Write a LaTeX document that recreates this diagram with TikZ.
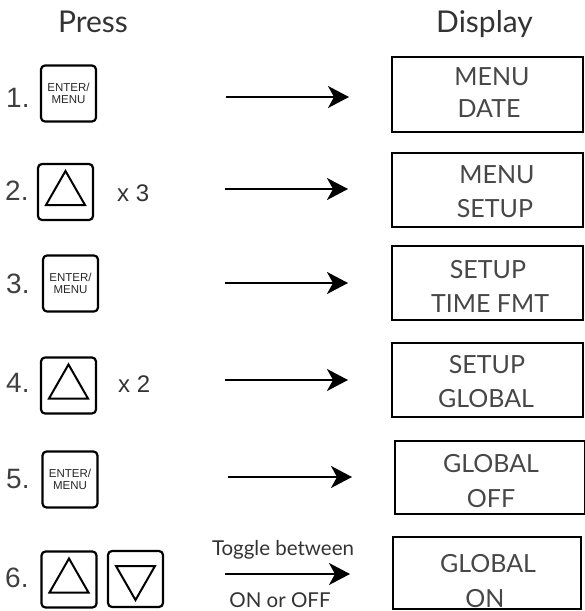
\documentclass[tikz,border=0pt]{standalone}
\usepackage{fontspec}
\setmainfont{Lato}
\newfontfamily\arialf{Liberation Sans}
\usetikzlibrary{arrows.meta}
\begin{document}
\begin{tikzpicture}[x=1pt,y=-1pt,
  btn/.style={draw=black, line width=2.2pt, rounded corners=4pt, minimum width=55pt, minimum height=56pt, inner sep=0pt},
  disp/.style={draw=black, line width=2.5pt, inner sep=0pt},
  arr/.style={line width=2pt, -{Stealth[length=21pt,width=22pt,inset=6pt]}},
  tri/.style={line width=2pt, line join=miter},
  num/.style={font=\arialf\fontsize{28}{28}\selectfont, text=black!75, anchor=base west, inner sep=0pt},
  times/.style={font=\arialf\fontsize{24}{24}\selectfont, text=black!80, anchor=base west, inner sep=0pt},
  head/.style={font=\fontsize{30}{30}\selectfont, text=black!80, anchor=base, inner sep=0pt},
  btext/.style={font=\arialf\fontsize{11.5}{12.5}\selectfont, align=center, text=black!85},
  dtext/.style={font=\fontsize{25}{25}\selectfont, text=black!72, anchor=base, inner sep=0pt},
  small/.style={font=\fontsize{20.5}{20.5}\selectfont, text=black!80, anchor=base, inner sep=0pt}
]
\path[use as bounding box] (0,0) rectangle (585,611);

% headings
\node[head] (hpress) at (93,32) {Press};
\node[head] (hdisp) at (484.5,32) {Display};

% numbers
\node[num] (n1) at (6,107) {1.};
\node[num] (n2) at (5,200) {2.};
\node[num] (n3) at (6,293) {3.};
\node[num] (n4) at (6,392) {4.};
\node[num] (n5) at (6,488) {5.};
\node[num] (n6) at (5,587) {6.};

% buttons
\node[btn, btext] (b1) at (68.5,93.5) {ENTER/\\MENU};
\node[btn] (b2) at (65.5,192) {};
\node[btn, btext] (b3) at (70.5,283.5) {ENTER/\\MENU};
\node[btn] (b4) at (68.5,385.5) {};
\node[btn, btext] (b5) at (70,479.5) {ENTER/\\MENU};
\node[btn] (b6a) at (69,579.5) {};
\node[btn] (b6b) at (135.5,579) {};

% triangles
\draw[tri, shift={(b2.center)}] (0,-21) -- (19.5,13) -- (-19.5,13) -- cycle;
\draw[tri, shift={(b4.center)}] (0,-21) -- (19.5,13) -- (-19.5,13) -- cycle;
\draw[tri, shift={(b6a.center)}] (0,-21) -- (19.5,13) -- (-19.5,13) -- cycle;
\draw[tri, shift={(b6b.center)}] (0,21) -- (19.5,-13) -- (-19.5,-13) -- cycle;

% multipliers
\node[times] (x3) at (117,201) {x 3};
\node[times] (x2) at (118,392) {x 2};

% display boxes
\node[disp, minimum width=191pt, minimum height=75pt] (d1) at (487.5,94.5) {};
\node[disp, minimum width=191pt, minimum height=74pt] (d2) at (487.5,190) {};
\node[disp, minimum width=191pt, minimum height=74pt] (d3) at (487.5,283) {};
\node[disp, minimum width=191pt, minimum height=74pt] (d4) at (487.5,380) {};
\node[disp, minimum width=190pt, minimum height=73pt] (d5) at (490,477.5) {};
\node[disp, minimum width=188pt, minimum height=72pt] (d6) at (487,573) {};

% display texts
\node[dtext] (t1a) at (492,85) {MENU};
\node[dtext] (t1b) at (489,117) {DATE};
\node[dtext] (t2a) at (497,183) {MENU};
\node[dtext] (t2b) at (495,217) {SETUP};
\node[dtext] (t3a) at (488,278) {SETUP};
\node[dtext] (t3b) at (490,312) {TIME FMT};
\node[dtext] (t4a) at (487,373) {SETUP};
\node[dtext] (t4b) at (486,407) {GLOBAL};
\node[dtext] (t5a) at (491,472) {GLOBAL};
\node[dtext] (t5b) at (491,507) {OFF};
\node[dtext] (t6a) at (488,572) {GLOBAL};
\node[dtext] (t6b) at (485,607) {ON};

% arrows
\coordinate (s1) at (226,97);  \coordinate (e1) at (349,97);
\coordinate (s2) at (225,189); \coordinate (e2) at (348,189);
\coordinate (s3) at (225,283); \coordinate (e3) at (348,283);
\coordinate (s4) at (225,380); \coordinate (e4) at (348,380);
\coordinate (s5) at (228,477); \coordinate (e5) at (352,477);
\coordinate (s6) at (225,574); \coordinate (e6) at (350,574);
\draw[arr] (s1) -- (e1);
\draw[arr] (s2) -- (e2);
\draw[arr] (s3) -- (e3);
\draw[arr] (s4) -- (e4);
\draw[arr] (s5) -- (e5);
\draw[arr] (s6) -- (e6);

\node[small] (tog) at (283,555) {Toggle between};
\node[small] (onoff) at (280,607) {ON or OFF};
\end{tikzpicture}
\end{document}
